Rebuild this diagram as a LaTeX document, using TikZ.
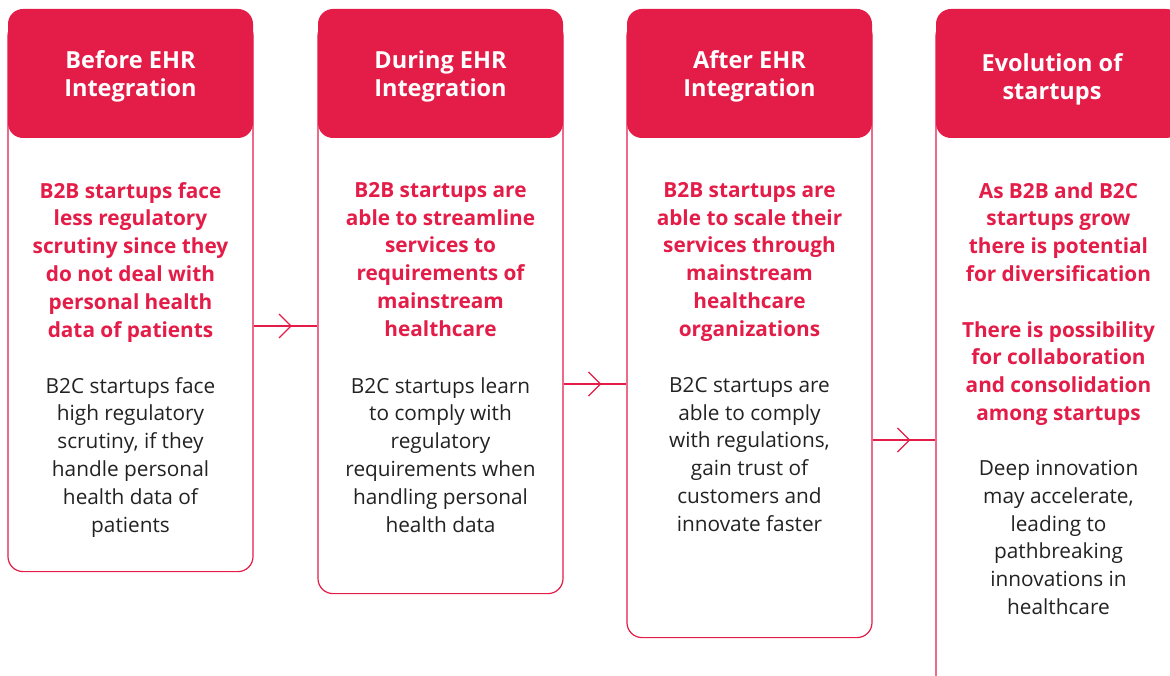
\documentclass[tikz,border=0pt]{standalone}
\usepackage{fontspec}
\setmainfont{Open Sans}
\usetikzlibrary{positioning, arrows.meta, calc}
\definecolor{ehr-red}{HTML}{E31C48}
\definecolor{ehr-dark}{HTML}{222222}

\tikzset{
	head/.style={fill=ehr-red, rounded corners=15pt, minimum width=245pt, minimum height=129pt, inner sep=0pt},
	headtext/.style={text=white, align=center, inner sep=0pt, font=\bfseries\fontsize{23.5}{28}\selectfont},
	body/.style={draw=ehr-red, line width=1.2pt, rounded corners=15pt, minimum width=245pt, inner sep=0pt, anchor=north},
	redtext/.style={text=ehr-red, align=center, anchor=north, inner sep=0pt, font=\bfseries\fontsize{20.8}{27.8}\selectfont},
	darktext/.style={text=ehr-dark, align=center, anchor=north, inner sep=0pt, font=\fontsize{20.8}{27.8}\selectfont},
	link/.style={draw=ehr-red, line width=1.2pt},
	chevron/.style={link, -{Straight Barb[length=12pt, width=24pt]}},
}

\begin{document}
\begin{tikzpicture}[x=1pt, y=-1pt]
	\clip (0,0) rectangle (1170,676);
	
	% outlines first, headers on top
	\node[body, minimum height=551pt] at (130.5,20) (b1) {};
	\node[body, minimum height=573pt] at (440.5,20) (b2) {};
	\node[body, minimum height=617pt] at (749.5,20) (b3) {};
	\node[body, minimum height=700pt] at (1058.5,20) (b4) {};
	
	\node[head] at (130.5,73.5) (h1) {};
	\node[head] at (440.5,73.5) (h2) {};
	\node[head] at (749.5,73.5) (h3) {};
	\node[head] at (1058.5,73.5) (h4) {};
	\node[headtext] at (130.5,76) (l1) {Before EHR\\Integration};
	\node[headtext] at (440.5,76) (l2) {During EHR\\Integration};
	\node[headtext] at (749.5,76) (l3) {After EHR\\Integration};
	\node[headtext] at (1052,79) (l4) {Evolution of\\startups};
	
	\node[redtext] at (130.5,182) (r1) {B2B startups face\\less regulatory\\scrutiny since they\\do not deal with\\personal health\\data of patients};
	\node[darktext] at (130.5,377) (k1) {B2C startups face\\high regulatory\\scrutiny, if they\\handle personal\\health data of\\patients};
	
	\node[redtext] at (440.5,182) (r2) {B2B startups are\\able to streamline\\services to\\requirements of\\mainstream\\healthcare};
	\node[darktext] at (440.5,377) (k2) {B2C startups learn\\to comply with\\regulatory\\requirements when\\handling personal\\health data};
	
	\node[redtext] at (749.5,182) (r3) {B2B startups are\\able to scale their\\services through\\mainstream\\healthcare\\organizations};
	\node[darktext] at (749.5,377) (k3) {B2C startups are\\able to comply\\with regulations,\\gain trust of\\customers and\\innovate faster};
	
	\node[redtext] at (1058.5,182) (r4) {As B2B and B2C\\startups grow\\there is potential\\for diversification};
	\node[redtext] at (1058.5,321) (s4) {There is possibility\\for collaboration\\and consolidation\\among startups};
	\node[darktext] at (1058.5,460) (k4) {Deep innovation\\may accelerate,\\leading to\\pathbreaking\\innovations in\\healthcare};
	
	% connectors
	\coordinate (y1) at (0,326);
	\coordinate (y2) at (0,384);
	\coordinate (y3) at (0,440);
	\draw[link] (b1.east |- y1) -- (b2.west |- y1);
	\draw[chevron] (b1.east |- y1) -- ($(b1.east |- y1)!0.6!(b2.west |- y1)$);
	\draw[link] (b2.east |- y2) -- (b3.west |- y2);
	\draw[chevron] (b2.east |- y2) -- ($(b2.east |- y2)!0.6!(b3.west |- y2)$);
	\draw[link] (b3.east |- y3) -- (b4.west |- y3);
	\draw[chevron] (b3.east |- y3) -- ($(b3.east |- y3)!0.6!(b4.west |- y3)$);
\end{tikzpicture}
\end{document}
